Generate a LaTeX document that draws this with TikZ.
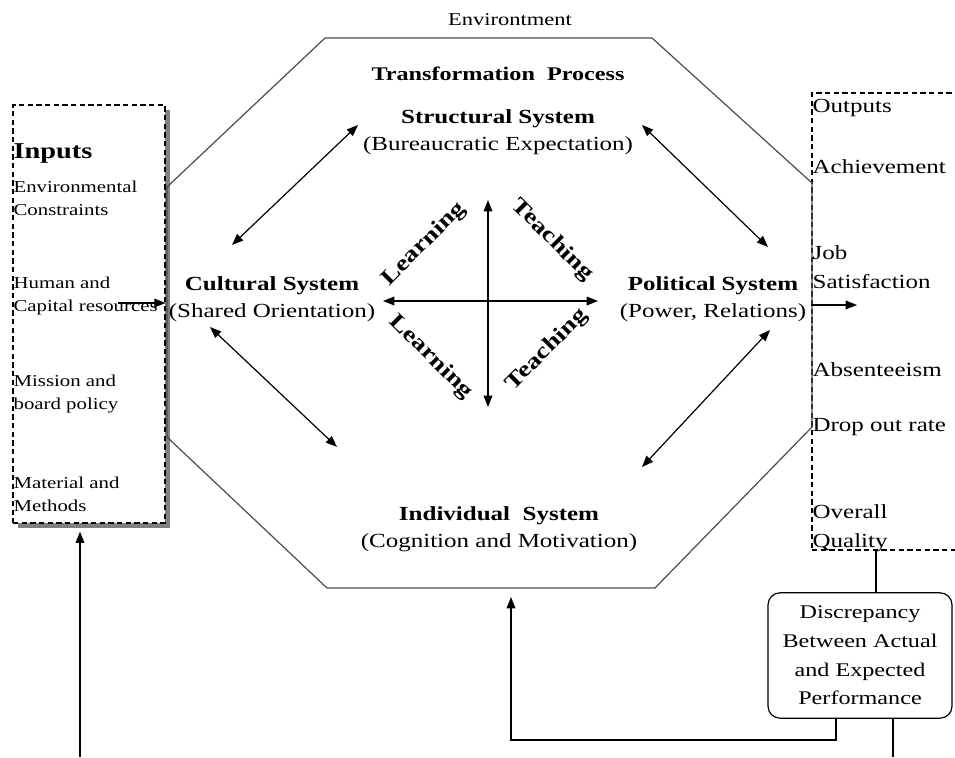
\documentclass[tikz,border=0pt]{standalone}
\usepackage{fontspec}
\setmainfont{Liberation Serif}[FakeStretch=1.25]
\usetikzlibrary{arrows.meta,shadows}

\tikzset{every picture/.style={line width=0.9pt}}
\tikzset{
  tip/.style={-{Triangle[length=8.5pt,width=6.5pt]}},
  twotip/.style={{Triangle[length=8.5pt,width=6.5pt]}-{Triangle[length=8.5pt,width=6.5pt]}},
  dashbox/.style={draw, dash pattern=on 4pt off 2.5pt},
  octline/.style={draw=black!70, line width=0.9pt},
  sysnode/.style={align=center, inner sep=0.75pt, font=\fontsize{15}{20.5}\selectfont},
  crosslbl/.style={inner sep=0pt, font=\fontsize{16.5}{18}\selectfont\bfseries},
  intext/.style={anchor=west, align=left, inner sep=0.75pt, font=\fontsize{12.5}{17}\selectfont},
  outtext/.style={anchor=west, align=left, inner sep=0.75pt, font=\fontsize{15}{21.5}\selectfont},
}

\begin{document}
\begin{tikzpicture}[x=0.75pt,y=0.75pt,yscale=-1]
	\useasboundingbox (0,0) rectangle (955,757);

	% Draw input and output boxes
	\node[dashbox, fill=white, minimum width=114pt, minimum height=313.5pt,
	      drop shadow={shadow xshift=3.5pt, shadow yshift=-3.5pt, fill=black!50, opacity=1}] (inputs) at (89,314) {};
	\node[dashbox, minimum width=141pt, minimum height=342.75pt] (outputs) at (906,321.5) {};
	\node[draw, rounded corners=9pt, minimum width=138pt, minimum height=94pt, align=center,
	      inner sep=0pt, font=\fontsize{14.5}{21.5}\selectfont] (discrep) at (860,655.5)
	      {Discrepancy\\Between Actual\\and Expected\\Performance};

	% Draw the octagon
	\draw[octline] (325,38) -- (652,38) -- (812,183) -- (812,427) -- (655,588) -- (327,588) -- (167,437) -- (167,187) -- cycle;

	% Add text nodes
	\node[inner sep=0.75pt, font=\fontsize{13.5}{16}\selectfont] (envir) at (510,20) {Environtment};
	\node[inner sep=0.75pt, font=\fontsize{14.5}{17}\selectfont\bfseries] (transf) at (498,74) {Transformation~~Process};
	\node[sysnode] (structural) at (498,132) {\textbf{Structural System}\\(Bureaucratic Expectation)};
	\node[sysnode] (cultural) at (272,299) {\textbf{Cultural System}\\(Shared Orientation)};
	\node[sysnode] (political) at (713,299) {\textbf{Political System}\\(Power, Relations)};
	\node[sysnode] (individual) at (499,529) {\textbf{Individual~~System}\\(Cognition and Motivation)};

	\node[crosslbl, rotate=45] (learnA) at (424,244) {Learning};
	\node[crosslbl, rotate=-45] (teachA) at (552,240) {Teaching};
	\node[crosslbl, rotate=-45] (learnB) at (431,357) {Learning};
	\node[crosslbl, rotate=45] (teachB) at (547,350) {Teaching};

	\node[intext, font=\fontsize{17}{20}\selectfont\bfseries] (inhead) at (12,153) {Inputs};
	\node[intext] (in1) at (12,198) {Environmental\\Constraints};
	\node[intext] (in2) at (12,296) {Human and\\Capital resources};
	\node[intext] (in3) at (12,394) {Mission and\\board policy};
	\node[intext] (in4) at (12,494) {Material and\\Methods};

	\node[outtext] (outhead) at (811,108) {Outputs};
	\node[outtext] (out1) at (811,167) {Achievement};
	\node[outtext] (out2) at (811,267) {Job\\Satisfaction};
	\node[outtext] (out3) at (811,370) {Absenteeism};
	\node[outtext] (out4) at (811,427) {Drop out rate};
	\node[outtext] (out5) at (811,528) {Overall\\Quality};

	% Arrow end points
	\coordinate (sc1) at (358,125); \coordinate (sc2) at (232,245);
	\coordinate (sp1) at (642,125); \coordinate (sp2) at (768,247);
	\coordinate (ci1) at (210,327); \coordinate (ci2) at (337,447);
	\coordinate (pi1) at (770,330); \coordinate (pi2) at (642,467);
	\coordinate (vtop) at (488,200); \coordinate (vbot) at (488,407);
	\coordinate (hleft) at (383,301); \coordinate (hright) at (598,301);
	\coordinate (inarr) at (118,303); \coordinate (outarr) at (857,305);
	\coordinate (fbtop) at (876,550); \coordinate (fbleft) at (836,740);
	\coordinate (indin) at (511,597); \coordinate (fbout) at (893,757);
	\coordinate (fbin) at (80,757);

	% Draw double arrows between the systems
	\draw[twotip] (sc1) -- (sc2);
	\draw[twotip] (sp1) -- (sp2);
	\draw[twotip] (ci1) -- (ci2);
	\draw[twotip] (pi1) -- (pi2);
	\draw[twotip] (vtop) -- (vbot);
	\draw[twotip] (hleft) -- (hright);

	% Draw input, output and feedback lines
	\draw[tip] (inarr) -- (inputs.east |- inarr);
	\draw[tip] (outputs.west |- outarr) -- (outarr);
	\draw (fbtop) -- (discrep.north -| fbtop);
	\draw[tip] (discrep.south -| fbleft) -- (fbleft) -| (indin);
	\draw (discrep.south -| fbout) -- (fbout);
	\draw[tip, shorten >=6pt] (fbin) -- (inputs.south -| fbin);
\end{tikzpicture}
\end{document}
